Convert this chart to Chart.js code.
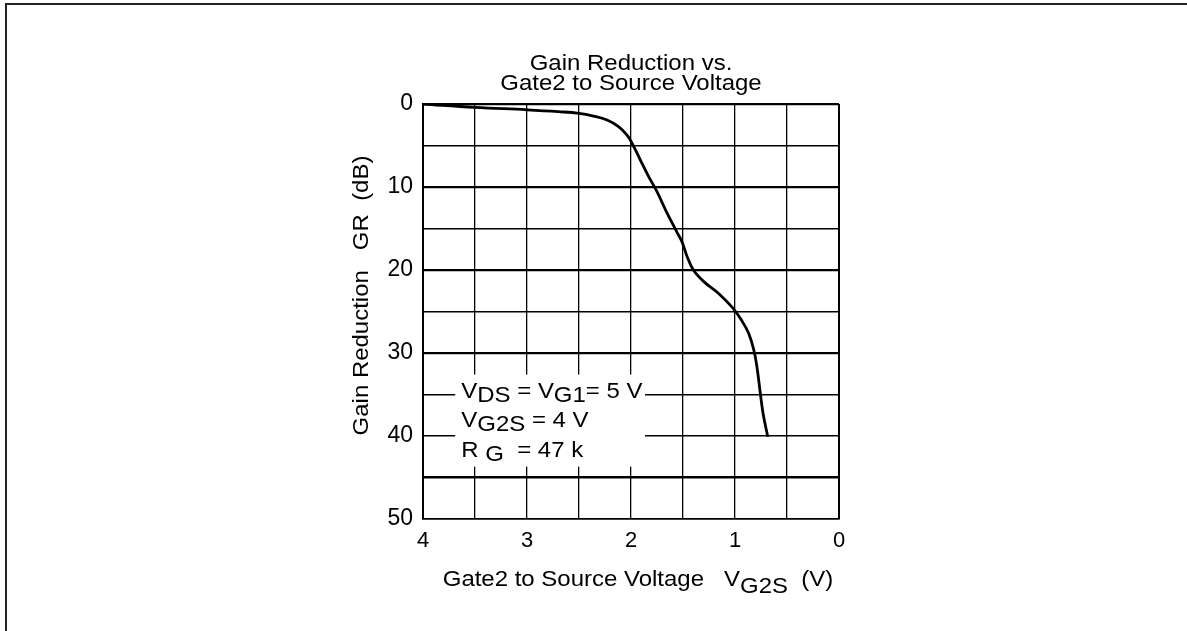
<!DOCTYPE html>
<html>
<head>
<meta charset="utf-8">
<script src="https://cdn.jsdelivr.net/npm/chart.js@4.4.1/dist/chart.umd.min.js"></script>
<style>
  html, body { margin: 0; padding: 0; background: #fff; overflow: hidden; }
  #wrap { position: relative; width: 1187px; height: 631px; }
  #frame { position: absolute; left: 5px; top: 3px; width: 1190px; height: 640px;
           border-top: 2px solid #222; border-left: 2px solid #222; box-sizing: border-box; pointer-events: none; }
  canvas { position: absolute; left: 0; top: 0; }
</style>
</head>
<body>
<div id="wrap">
  <canvas id="c" width="1187" height="631"></canvas>
  <div id="frame"></div>
</div>
<script>
// ---- data ----
const vg2s = [4.0, 3.5, 3.0, 2.7, 2.5, 2.36, 2.23, 2.12, 2.04, 1.99, 1.91, 1.83, 1.75, 1.66, 1.56, 1.51, 1.46, 1.40, 1.30, 1.16, 1.02, 0.94, 0.87, 0.82, 0.79, 0.76, 0.73, 0.685];
const gainReduction = [0, 0.4, 0.7, 0.92, 1.12, 1.45, 1.93, 2.73, 3.73, 4.73, 6.75, 8.76, 10.56, 12.97, 15.4, 16.6, 18.4, 20.0, 21.4, 22.8, 24.6, 26.0, 27.6, 29.6, 31.6, 34.5, 37.3, 40.1];
const xTickLabels = [0, 1, 2, 3, 4];
const yTickLabels = [0, 10, 20, 30, 40, 50];
const titleLines = ["Gain Reduction vs.", "Gate2 to Source Voltage"];
const yTitle = "Gain Reduction   GR  (dB)";
const xTitleParts = [["Gate2 to Source Voltage   V", false], ["G2S", true], ["  (V)", false]];
const noteLines = [
  [["V", false], ["DS", true], [" = V", false], ["G1", true], ["= 5 V", false]],
  [["V", false], ["G2S", true], [" = 4 V", false]],
  [["R ", false], ["G", true], ["  = 47 k", false]]
];
// annotation box in data units (x: V, y: dB)
const noteBox = { x1: 3.69, x2: 1.865, y1: 32.6, y2: 43.7 };

const FONT = '"Liberation Sans", Arial, Helvetica, sans-serif';
const SX = 1.09; // horizontal stretch of the reference lettering

function richWidth(ctx, parts) {
  let w = 0;
  for (const [t] of parts) w += ctx.measureText(t).width;
  return w * SX;
}
function drawRich(ctx, x, y, parts, subDy) {
  ctx.save();
  ctx.translate(x, y);
  ctx.scale(SX, 1);
  let cx = 0;
  for (const [t, sub] of parts) {
    ctx.fillText(t, cx, sub ? subDy : 0);
    cx += ctx.measureText(t).width;
  }
  ctx.restore();
}

const textPlugin = {
  id: 'texts',
  afterDraw(chart) {
    const ctx = chart.ctx;
    const xs = chart.scales.x, ys = chart.scales.y;
    const ca = chart.chartArea;
    const cxm = (ca.left + ca.right) / 2;
    ctx.save();
    ctx.fillStyle = '#000';
    ctx.textBaseline = 'alphabetic';
    ctx.textAlign = 'left';
    ctx.font = '22px ' + FONT;
    // title
    titleLines.forEach((t, i) => {
      const w = richWidth(ctx, [[t]]);
      drawRich(ctx, cxm - w / 2, ca.top - 34 + i * 20, [[t, false]], 0);
    });
    // x title
    const xw = richWidth(ctx, xTitleParts);
    drawRich(ctx, cxm - xw / 2 + 7, ca.bottom + 67, xTitleParts, 7);
    // y title (rotated)
    ctx.save();
    ctx.translate(ca.left - 55, (ca.top + ca.bottom) / 2 - 16);
    ctx.rotate(-Math.PI / 2);
    const yw = richWidth(ctx, [[yTitle]]);
    drawRich(ctx, -yw / 2, 0, [[yTitle, false]], 0);
    ctx.restore();
    // note box
    const bx1 = xs.getPixelForValue(noteBox.x1), bx2 = xs.getPixelForValue(noteBox.x2);
    const by1 = ys.getPixelForValue(noteBox.y1), by2 = ys.getPixelForValue(noteBox.y2);
    ctx.fillStyle = '#fff';
    ctx.fillRect(Math.min(bx1, bx2), Math.min(by1, by2), Math.abs(bx2 - bx1), Math.abs(by2 - by1));
    ctx.fillStyle = '#000';
    noteLines.forEach((parts, i) => {
      drawRich(ctx, Math.min(bx1, bx2) + 6, Math.min(by1, by2) + 23 + i * 29.5, parts, 4);
    });
    ctx.restore();
  }
};

const yGridWidth = (c) => {
  const v = c.tick ? c.tick.value : 0;
  if (v === 0) return 2.2;
  if (v === 10 || v === 20 || v === 30) return 2.2;
  if (v === 45) return 2.6;
  if (v === 40) return 1.5;
  if (v === 50) return 1.6;
  return 1.4;
};
const xGridWidth = (c) => {
  const v = c.tick ? c.tick.value : 0;
  if (v === 0 || v === 4) return 2;
  return 1.3;
};

new Chart(document.getElementById('c'), {
  type: 'line',
  data: {
    datasets: [{
      data: vg2s.map((v, i) => ({ x: v, y: gainReduction[i] })),
      borderColor: '#000',
      borderWidth: 2.8,
      pointRadius: 0,
      tension: 0.4,
      fill: false
    }]
  },
  options: {
    responsive: false,
    animation: false,
    devicePixelRatio: 1,
    layout: { padding: { left: 0, right: 348, top: 104, bottom: 0 } },
    plugins: { legend: { display: false }, tooltip: { enabled: false }, title: { display: false } },
    scales: {
      x: {
        type: 'linear', min: 0, max: 4, reverse: true,
        afterFit: (s) => { s.height = 112; },
        ticks: {
          stepSize: 0.5, autoSkip: false, maxRotation: 0, padding: 9,
          color: '#000', font: { family: FONT, size: 22 },
          callback: (v) => xTickLabels.includes(v) ? String(v) : ''
        },
        grid: { color: '#000', lineWidth: xGridWidth, drawTicks: false },
        border: { color: '#000', width: 1.6 }
      },
      y: {
        type: 'linear', min: 0, max: 50, reverse: true,
        afterFit: (s) => { s.width = 423; },
        ticks: {
          stepSize: 5, autoSkip: false, padding: 10,
          color: '#000', font: { family: FONT, size: 23 },
          callback: (v) => yTickLabels.includes(v) ? String(v) : ''
        },
        grid: { color: '#000', lineWidth: yGridWidth, drawTicks: false },
        border: { color: '#000', width: 2 }
      }
    }
  },
  plugins: [textPlugin]
});
</script>
</body>
</html>
